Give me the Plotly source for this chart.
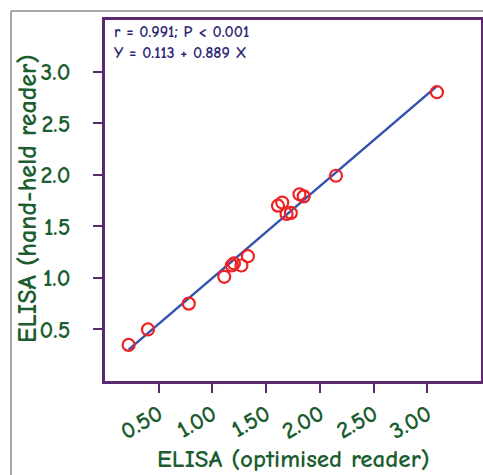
import numpy as np
import plotly.graph_objects as go

# Data
optimised_reader = [0.22, 0.40, 0.78, 1.11, 1.18, 1.20, 1.27, 1.33, 1.61, 1.65, 1.69, 1.73, 1.81, 1.85, 2.15, 3.09]
handheld_reader  = [0.35, 0.50, 0.75, 1.01, 1.12, 1.14, 1.12, 1.21, 1.70, 1.73, 1.62, 1.63, 1.81, 1.79, 1.99, 2.80]
x_ticks = [0.5, 1.0, 1.5, 2.0, 2.5, 3.0]
x_ticklabels = ["0.50", "1.00", "1.50", "2.00", "2.50", "3.00"]
y_ticks = [0.5, 1.0, 1.5, 2.0, 2.5, 3.0]
y_ticklabels = ["0.5", "1.0", "1.5", "2.0", "2.5", "3.0"]
x_title = "ELISA (optimised reader)"
y_title = "ELISA (hand-held reader)"
stats_text = "r = 0.991; P < 0.001<br>Y = 0.113 + 0.889 X"

FONT = "Comic Sans MS, Comic Neue, Lato, sans-serif"
GREEN = "#1c5e30"
PURPLE = "#5b2a6e"
NAVY = "#2f2a78"
W, H = 483, 475

xs = np.array(optimised_reader)
ys = np.array(handheld_reader)
slope, intercept = np.polyfit(xs, ys, 1)
line_x = np.array([xs.min(), xs.max()])
line_y = intercept + slope * line_x

fig = go.Figure()
fig.add_trace(go.Scatter(x=line_x, y=line_y, mode="lines",
                         line=dict(color="#3352ad", width=2.5), showlegend=False, hoverinfo="skip"))
fig.add_trace(go.Scatter(x=optimised_reader, y=handheld_reader, mode="markers",
                         marker=dict(symbol="circle-open", size=12, color="#ee2222", line=dict(width=2.2)),
                         showlegend=False))

axis_common = dict(range=[0, 3.5], automargin=False, showgrid=False, zeroline=False,
                   showline=True, mirror=True, linecolor=PURPLE, linewidth=2.5,
                   ticks="outside", ticklen=9, tickwidth=2, tickcolor=PURPLE,
                   tickfont=dict(size=24, color=GREEN, weight="bold"))

fig.update_layout(
    width=W, height=H,
    margin=dict(l=0, r=0, t=0, b=0),
    paper_bgcolor="white", plot_bgcolor="white",
    font=dict(family=FONT),
    xaxis=dict(domain=[105 / W, 481 / W], tickvals=x_ticks, ticktext=x_ticklabels,
               tickangle=-30, ticklabelstandoff=-2, **axis_common),
    yaxis=dict(domain=[1 - 381 / H, 1 - 20 / H], tickvals=y_ticks, ticktext=y_ticklabels,
               ticklabelstandoff=18, **axis_common),
    annotations=[
        dict(text=stats_text, xref="paper", yref="paper", x=112 / W, y=1 - 21 / H,
             xanchor="left", yanchor="top", showarrow=False, align="left",
             font=dict(size=16, color=NAVY, weight="bold")),
        dict(text=x_title, xref="paper", yref="paper", x=293 / W, y=1 - 458 / H,
             xanchor="center", yanchor="middle", showarrow=False,
             font=dict(size=25, color=GREEN, weight="bold")),
        dict(text=y_title, xref="paper", yref="paper", x=28 / W, y=1 - 199 / H, textangle=-90,
             xanchor="center", yanchor="middle", showarrow=False,
             font=dict(size=26, color=GREEN, weight="bold")),
    ],
    shapes=[
        dict(type="line", xref="paper", yref="paper", x0=11 / W, x1=11 / W, y0=0, y1=1 - 11 / H,
             line=dict(color="#8a8a8a", width=1.5)),
        dict(type="line", xref="paper", yref="paper", x0=11 / W, x1=1, y0=1 - 11 / H, y1=1 - 11 / H,
             line=dict(color="#8a8a8a", width=1.5)),
    ],
)

fig.write_html("out.html", config={"displayModeBar": False},
               post_script="document.body.style.margin='0';document.body.style.overflow='hidden';")
